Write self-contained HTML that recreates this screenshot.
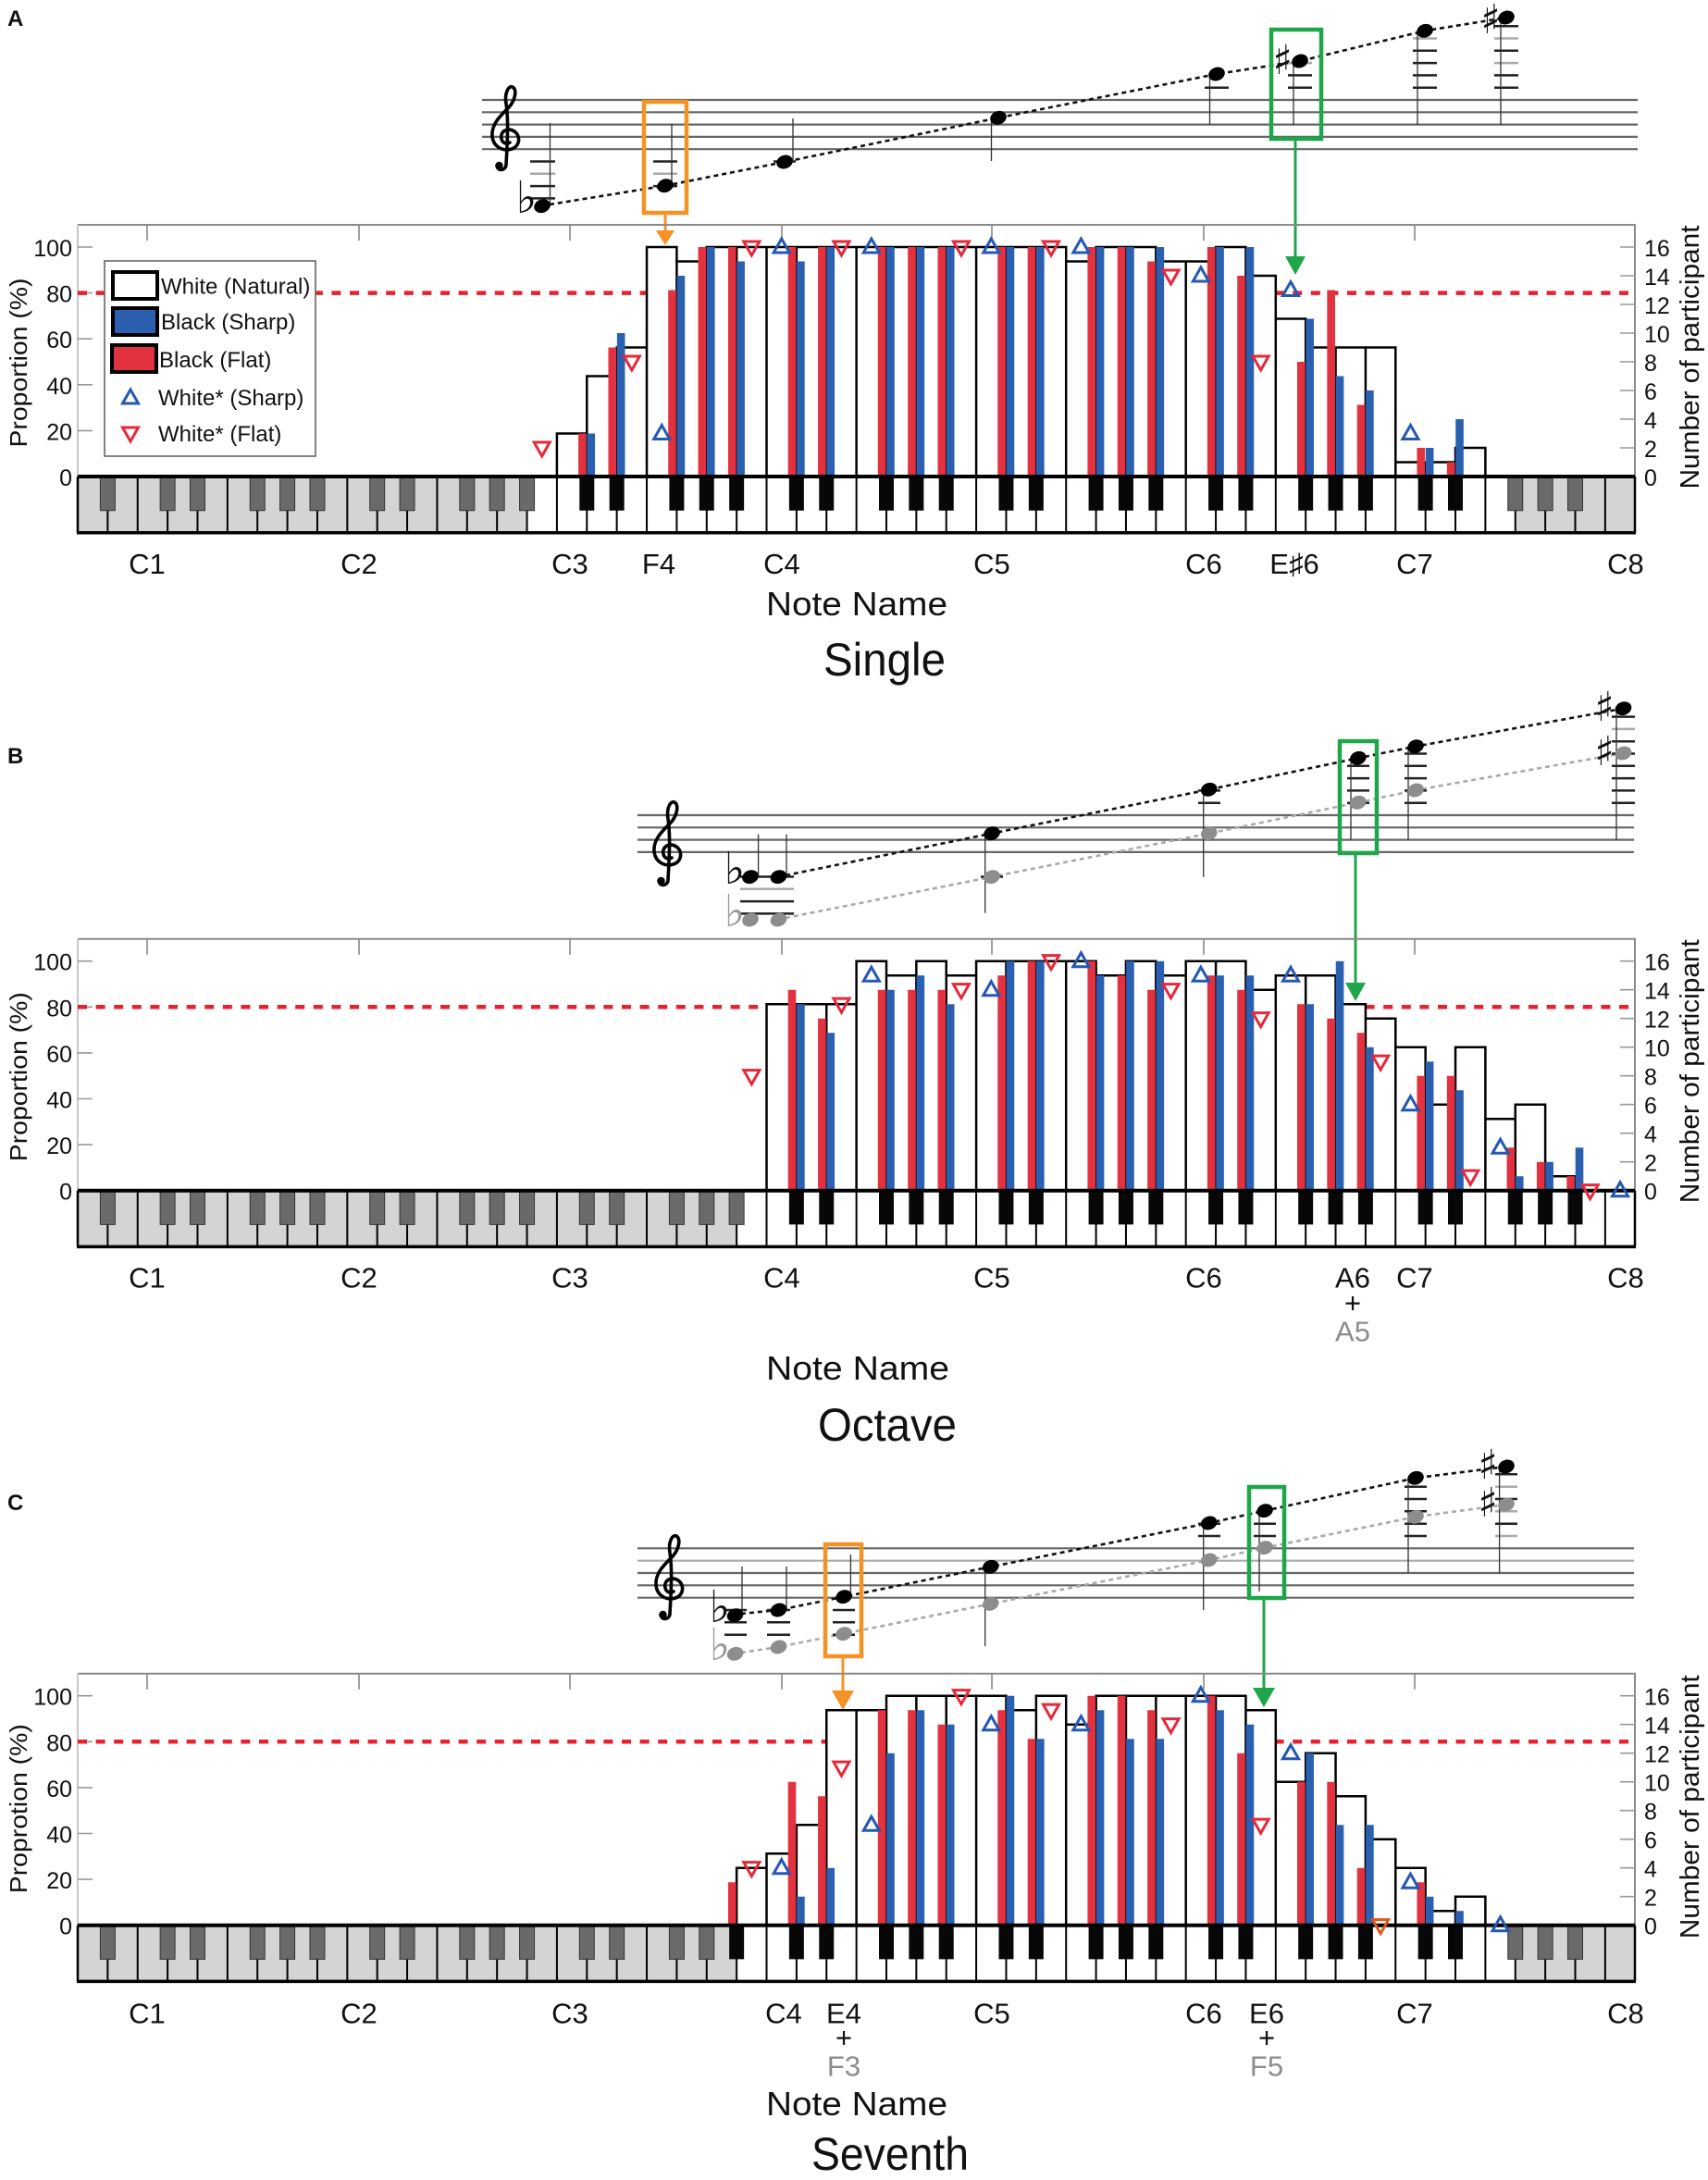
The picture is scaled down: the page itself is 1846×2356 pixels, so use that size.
<!DOCTYPE html>
<html><head><meta charset="utf-8">
<style>
html,body{margin:0;padding:0;background:#fff;}
svg{display:block;}
text{font-family:"Liberation Sans",Arial,sans-serif;fill:#111;}
.acc{font-family:"DejaVu Sans","Liberation Sans",sans-serif;}
.ns{vector-effect:non-scaling-stroke;}
</style></head>
<body>
<svg width="1846" height="2356" viewBox="0 0 1846 2356" xmlns="http://www.w3.org/2000/svg">
<rect x="0" y="0" width="1846" height="2356" fill="#fff"/>

<!-- Panel letters -->
<text x="8" y="28" font-size="24" font-weight="bold">A</text>
<text x="8" y="825" font-size="24" font-weight="bold">B</text>
<text x="8" y="1632" font-size="24" font-weight="bold">C</text>

<!-- ================= STAFF A ================= -->
<g stroke="#666" stroke-width="2.2">
<line x1="521" y1="108" x2="1770" y2="108"/><line x1="521" y1="121.3" x2="1770" y2="121.3"/><line x1="521" y1="134.6" x2="1770" y2="134.6"/><line x1="521" y1="147.9" x2="1770" y2="147.9"/><line x1="521" y1="161.2" x2="1770" y2="161.2"/>
</g>
<g transform="translate(529,92)"><path d="M18,86C19,66 21,40 18,20C16,8 21,0 25,2C30,5 28,16 21,24C12,33 2,42 3,55C4,67 15,72 24,69C33,66 34,55 27,50C20,45 11,50 13,58C14,63 19,64 22,62M18,86C18,92 9,94 8,87" fill="none" stroke="#000" stroke-width="3.6" stroke-linecap="round"/><circle cx="10.5" cy="87" r="4.2" fill="#000"/></g>
<polyline points="594,221 719,200.7 848,175 1079,127.3 1315,80 1405,66 1540,33.3 1628,19" fill="none" stroke="#111" stroke-width="2.6" stroke-dasharray="5 4"/>
<path d="M573,174.5h27M573,201.1h27M573,214.4h27M706,174.5h26M706,201.1h26M836,174.5h24M1302,94.7h26M1392,94.7h26M1392,81.4h26M1527,94.7h26M1527,81.4h26M1527,68.1h26M1527,54.8h26M1615,94.7h26M1615,81.4h26M1615,54.8h26M1615,28.2h26" stroke="#222" stroke-width="2.5"/>
<path d="M573,187.8h27M706,187.8h26M1392,68.1h26M1527,41.5h26M1615,68.1h26M1615,41.5h26" stroke="#aaa" stroke-width="2.5"/>
<path d="M594.5,133V222M726,134V200M857,128V175M1071.5,127V174M1307.5,80V135M1398,66V135M1532,33V135M1622,19V135" stroke="#333" stroke-width="1.3"/>
<g fill="#000">
<ellipse cx="586" cy="222.7" rx="9" ry="7.2" transform="rotate(-20 586 222.7)"/>
<ellipse cx="719" cy="200.7" rx="9" ry="7.2" transform="rotate(-20 719 200.7)"/>
<ellipse cx="848" cy="175" rx="9" ry="7.2" transform="rotate(-20 848 175)"/>
<ellipse cx="1079" cy="127.3" rx="9" ry="7.2" transform="rotate(-20 1079 127.3)"/>
<ellipse cx="1315" cy="80" rx="9" ry="7.2" transform="rotate(-20 1315 80)"/>
<ellipse cx="1405" cy="66" rx="9" ry="7.2" transform="rotate(-20 1405 66)"/>
<ellipse cx="1540" cy="33.3" rx="9" ry="7.2" transform="rotate(-20 1540 33.3)"/>
<ellipse cx="1628" cy="19" rx="9" ry="7.2" transform="rotate(-20 1628 19)"/>
</g>
<text class="acc" x="569" y="230" font-size="48" text-anchor="middle">♭</text>
<text class="acc" x="1386" y="80" font-size="44" text-anchor="middle">♯</text>
<text class="acc" x="1611" y="36" font-size="44" text-anchor="middle">♯</text>
<!-- boxes A -->
<rect x="696" y="110" width="46" height="120" fill="none" stroke="#F39325" stroke-width="4.5"/>
<line x1="719" y1="232" x2="719" y2="252" stroke="#F39325" stroke-width="3"/>
<polygon points="709,249 729,249 719,265" fill="#F39325"/>
<rect x="1374" y="32" width="54" height="118" fill="none" stroke="#20A64A" stroke-width="4.5"/>
<line x1="1400" y1="152" x2="1400" y2="280" stroke="#20A64A" stroke-width="3"/>
<polygon points="1389,277 1411,277 1400,297" fill="#20A64A"/>

<!-- ================= CHART A ================= -->
<g transform="translate(0,515)">
 <path d="M84,-272H1767V0" fill="none" stroke="#8a8a8a" stroke-width="2"/>
 <path d="M84,-272V0" stroke="#c8c8c8" stroke-width="2"/>
 <path d="M159,-272v17M388,-272v17M616,-272v17M845,-272v17M1072,-272v17M1301,-272v17M1529,-272v17" stroke="#888" stroke-width="1.6"/>
 <path d="M84,-248h16M84,-198.4h16M84,-148.8h16M84,-99.2h16M84,-49.6h16" stroke="#999" stroke-width="1.6"/>
 <path d="M1767,-248h-16M1767,-217h-16M1767,-186h-16M1767,-155h-16M1767,-124h-16M1767,-93h-16M1767,-62h-16M1767,-31h-16" stroke="#999" stroke-width="1.6"/>
 <line x1="84" y1="-198.4" x2="1767" y2="-198.4" stroke="#e8212f" stroke-width="4.5" stroke-dasharray="10 9.6"/>
 <g transform="translate(84,0) scale(32.37,15.5)">
  <rect x="0" y="0" width="52" height="3.92" fill="#fff"/>
  <rect x="0" y="0" width="15" height="3.92" fill="#d4d4d4"/>
  <rect x="48" y="0" width="4" height="3.92" fill="#d4d4d4"/>
  <path class="ns" stroke="#000" stroke-width="2" d="M1,0V3.92M2,0V3.92M3,0V3.92M4,0V3.92M5,0V3.92M6,0V3.92M7,0V3.92M8,0V3.92M9,0V3.92M10,0V3.92M11,0V3.92M12,0V3.92M13,0V3.92M14,0V3.92M15,0V3.92M16,0V3.92M17,0V3.92M18,0V3.92M19,0V3.92M20,0V3.92M21,0V3.92M22,0V3.92M23,0V3.92M24,0V3.92M25,0V3.92M26,0V3.92M27,0V3.92M28,0V3.92M29,0V3.92M30,0V3.92M31,0V3.92M32,0V3.92M33,0V3.92M34,0V3.92M35,0V3.92M36,0V3.92M37,0V3.92M38,0V3.92M39,0V3.92M40,0V3.92M41,0V3.92M42,0V3.92M43,0V3.92M44,0V3.92M45,0V3.92M46,0V3.92M47,0V3.92M48,0V3.92M49,0V3.92M50,0V3.92M51,0V3.92"/>
  <path class="ns" fill="#6a6a6a" stroke="#333" stroke-width="1" d="M.753,0h.494v2.37h-.494zM2.753,0h.494v2.37h-.494zM3.753,0h.494v2.37h-.494zM5.753,0h.494v2.37h-.494zM6.753,0h.494v2.37h-.494zM7.753,0h.494v2.37h-.494zM9.753,0h.494v2.37h-.494zM10.753,0h.494v2.37h-.494zM12.753,0h.494v2.37h-.494zM13.753,0h.494v2.37h-.494zM14.753,0h.494v2.37h-.494zM47.753,0h.494v2.37h-.494zM48.753,0h.494v2.37h-.494zM49.753,0h.494v2.37h-.494z"/>
  <path fill="#070707" d="M16.753,0h.494v2.37h-.494zM17.753,0h.494v2.37h-.494zM19.753,0h.494v2.37h-.494zM20.753,0h.494v2.37h-.494zM21.753,0h.494v2.37h-.494zM23.753,0h.494v2.37h-.494zM24.753,0h.494v2.37h-.494zM26.753,0h.494v2.37h-.494zM27.753,0h.494v2.37h-.494zM28.753,0h.494v2.37h-.494zM30.753,0h.494v2.37h-.494zM31.753,0h.494v2.37h-.494zM33.753,0h.494v2.37h-.494zM34.753,0h.494v2.37h-.494zM35.753,0h.494v2.37h-.494zM37.753,0h.494v2.37h-.494zM38.753,0h.494v2.37h-.494zM40.753,0h.494v2.37h-.494zM41.753,0h.494v2.37h-.494zM42.753,0h.494v2.37h-.494zM44.753,0h.494v2.37h-.494zM45.753,0h.494v2.37h-.494z"/>
  <path class="ns" fill="#fff" stroke="#000" stroke-width="2.5" d="M16,0v-3h1v3zM17,0v-7h1v7zM18,0v-9h1v9zM19,0v-16h1v16zM20,0v-15h1v15zM21,0v-16h1v16zM22,0v-16h1v16zM23,0v-16h1v16zM24,0v-16h1v16zM25,0v-16h1v16zM26,0v-16h1v16zM27,0v-16h1v16zM28,0v-16h1v16zM29,0v-16h1v16zM30,0v-16h1v16zM31,0v-16h1v16zM32,0v-16h1v16zM33,0v-15h1v15zM34,0v-16h1v16zM35,0v-16h1v16zM36,0v-15h1v15zM37,0v-15h1v15zM38,0v-16h1v16zM39,0v-14h1v14zM40,0v-11h1v11zM41,0v-9h1v9zM42,0v-9h1v9zM43,0v-9h1v9zM44,0v-1h1v1zM45,0v-1h1v1zM46,0v-2h1v2z"/>
  <path fill="#E2323F" d="M16.716,0v-3h.266v3zM17.716,0v-9h.266v9zM19.716,0v-13h.266v13zM20.716,0v-16h.266v16zM21.716,0v-16h.266v16zM23.716,0v-16h.266v16zM24.716,0v-16h.266v16zM26.716,0v-16h.266v16zM27.716,0v-16h.266v16zM28.716,0v-16h.266v16zM30.716,0v-16h.266v16zM31.716,0v-16h.266v16zM33.716,0v-16h.266v16zM34.716,0v-16h.266v16zM35.716,0v-15h.266v15zM37.716,0v-16h.266v16zM38.716,0v-14h.266v14zM40.716,0v-8h.266v8zM41.716,0v-13h.266v13zM42.716,0v-5h.266v5zM44.716,0v-2h.266v2zM45.716,0v-1h.266v1z"/>
  <path fill="#2B60B0" d="M17.006,0v-3h.266v3zM18.006,0v-10h.266v10zM20.006,0v-14h.266v14zM21.006,0v-16h.266v16zM22.006,0v-15h.266v15zM24.006,0v-15h.266v15zM25.006,0v-16h.266v16zM27.006,0v-16h.266v16zM28.006,0v-16h.266v16zM29.006,0v-16h.266v16zM31.006,0v-16h.266v16zM32.006,0v-16h.266v16zM34.006,0v-16h.266v16zM35.006,0v-16h.266v16zM36.006,0v-16h.266v16zM38.006,0v-16h.266v16zM39.006,0v-16h.266v16zM41.006,0v-11h.266v11zM42.006,0v-7h.266v7zM43.006,0v-6h.266v6zM45.006,0v-2h.266v2zM46.006,0v-4h.266v4z"/>
 </g>
 <path d="M84,0H1767" stroke="#000" stroke-width="4"/>
 <path d="M83,60.7H1768" stroke="#000" stroke-width="3.5"/>
 <path d="M84,0V60.7M1767,0V60.7" stroke="#000" stroke-width="2.5"/>
 <g transform="translate(84,0) scale(32.37,15.5)">
  <path class="ns" fill="none" stroke="#E5283A" stroke-width="3" d="M15.5,-1.42l.263,-.968h-.526zM18.5,-7.42l.263,-.968h-.526zM22.5,-15.42l.263,-.968h-.526zM25.5,-15.42l.263,-.968h-.526zM29.5,-15.42l.263,-.968h-.526zM32.5,-15.42l.263,-.968h-.526zM36.5,-13.42l.263,-.968h-.526zM39.5,-7.42l.263,-.968h-.526z"/>
  <path class="ns" fill="none" stroke="#2458B3" stroke-width="3" d="M19.5,-3.58l.263,.968h-.526zM23.5,-16.58l.263,.968h-.526zM26.5,-16.58l.263,.968h-.526zM30.5,-16.58l.263,.968h-.526zM33.5,-16.58l.263,.968h-.526zM37.5,-14.58l.263,.968h-.526zM40.5,-13.58l.263,.968h-.526zM44.5,-3.58l.263,.968h-.526z"/>
 </g>
 <g font-size="25" text-anchor="end">
  <text x="78" y="-238">100</text><text x="78" y="-188.4">80</text><text x="78" y="-138.8">60</text><text x="78" y="-89.2">40</text><text x="78" y="-39.6">20</text><text x="78" y="10">0</text>
 </g>
 <g font-size="25">
  <text x="1777" y="-238">16</text><text x="1777" y="-207">14</text><text x="1777" y="-176">12</text><text x="1777" y="-145">10</text><text x="1777" y="-114">8</text><text x="1777" y="-83">6</text><text x="1777" y="-52">4</text><text x="1777" y="-21">2</text><text x="1777" y="10">0</text>
 </g>
 <text transform="translate(29,-123) rotate(-90)" font-size="26" text-anchor="middle" textLength="183" lengthAdjust="spacingAndGlyphs">Proportion (%)</text>
 <text transform="translate(1836,-129) rotate(-90)" font-size="29" text-anchor="middle" textLength="285" lengthAdjust="spacingAndGlyphs">Number of participant</text>
 <g font-size="31" text-anchor="middle">
  <text x="159" y="105">C1</text><text x="388" y="105">C2</text><text x="616" y="105">C3</text><text x="712" y="105">F4</text><text x="845" y="105">C4</text><text x="1072" y="105">C5</text><text x="1301" y="105">C6</text><text x="1399" y="105">E♯6</text><text x="1529" y="105">C7</text><text x="1757" y="105">C8</text>
 </g>
</g>
<!-- Legend A -->
<rect x="113" y="282" width="228" height="211" fill="#fff" stroke="#666" stroke-width="1.6"/>
<rect x="122" y="294" width="48" height="29" fill="#fff" stroke="#000" stroke-width="4"/>
<rect x="122" y="333" width="48" height="29" fill="#2B60B0" stroke="#000" stroke-width="4"/>
<rect x="121" y="373" width="48" height="29" fill="#E2323F" stroke="#000" stroke-width="4"/>
<polygon points="141,421 132.5,436 149.5,436" fill="none" stroke="#2458B3" stroke-width="3"/>
<polygon points="141,477 132.5,462 149.5,462" fill="none" stroke="#E5283A" stroke-width="3"/>
<g font-size="24">
<text x="174" y="317.5">White (Natural)</text>
<text x="174" y="356">Black (Sharp)</text>
<text x="172" y="397">Black (Flat)</text>
<text x="171" y="438">White* (Sharp)</text>
<text x="171" y="477">White* (Flat)</text>
</g>
<text x="926" y="665" font-size="36" text-anchor="middle" textLength="196" lengthAdjust="spacingAndGlyphs">Note Name</text>
<text x="956" y="730" font-size="50" text-anchor="middle" textLength="132" lengthAdjust="spacingAndGlyphs">Single</text>

<!-- ================= STAFF B ================= -->
<g stroke="#666" stroke-width="2.2">
<line x1="689" y1="881" x2="1766" y2="881"/><line x1="689" y1="894.3" x2="1766" y2="894.3"/><line x1="689" y1="907.6" x2="1766" y2="907.6"/><line x1="689" y1="920.9" x2="1766" y2="920.9"/>
</g>
<g transform="translate(704,865)"><path d="M18,86C19,66 21,40 18,20C16,8 21,0 25,2C30,5 28,16 21,24C12,33 2,42 3,55C4,67 15,72 24,69C33,66 34,55 27,50C20,45 11,50 13,58C14,63 19,64 22,62M18,86C18,92 9,94 8,87" fill="none" stroke="#000" stroke-width="3.6" stroke-linecap="round"/><circle cx="10.5" cy="87" r="4.2" fill="#000"/></g>
<polyline points="849,946 1072,900.7 1306.7,853.3 1467.8,819.3 1530,806.7 1754.5,765.7" fill="none" stroke="#111" stroke-width="2.6" stroke-dasharray="5 4"/>
<polyline points="849,992 1072,947.7 1306.7,900.7 1467.8,867.3 1530,854 1754.5,814" fill="none" stroke="#aaa" stroke-width="2.6" stroke-dasharray="5 4"/>
<path d="M800,947.5h58M800,974.1h58M800,987.4h58M1060,947.5h24M1295,854.4h24M1295,867.7h24M1456,827.8h24M1456,841.1h24M1456,854.4h24M1456,867.7h24M1518,814.5h24M1518,827.8h24M1518,841.1h24M1518,854.4h24M1518,867.7h24M1742,774.6h25M1742,801.2h25M1742,814.5h25M1742,827.8h25M1742,841.1h25M1742,854.4h25M1742,867.7h25" stroke="#222" stroke-width="2.5"/>
<path d="M800,960.8h58M1742,787.9h25" stroke="#aaa" stroke-width="2.5"/>
<path d="M819.6,901.7V947.7M850,901.7V947.7M1064.7,900.7V986.7M1300.7,853V947.7M1460,819V907.7M1522,806.7V907.7M1747,765.7V907.7" stroke="#333" stroke-width="1.3"/>
<g fill="#8d8d8d">
<ellipse cx="811" cy="994" rx="9" ry="7.2" transform="rotate(-20 811 994)"/>
<ellipse cx="841.5" cy="994" rx="9" ry="7.2" transform="rotate(-20 841.5 994)"/>
<ellipse cx="1072" cy="947.7" rx="9" ry="7.2" transform="rotate(-20 1072 947.7)"/>
<ellipse cx="1306.7" cy="900.7" rx="9" ry="7.2" transform="rotate(-20 1306.7 900.7)"/>
<ellipse cx="1467.8" cy="867.3" rx="9" ry="7.2" transform="rotate(-20 1467.8 867.3)"/>
<ellipse cx="1530" cy="854" rx="9" ry="7.2" transform="rotate(-20 1530 854)"/>
<ellipse cx="1754.5" cy="814" rx="9" ry="7.2" transform="rotate(-20 1754.5 814)"/>
</g>
<g fill="#000">
<ellipse cx="811" cy="947.7" rx="9" ry="7.2" transform="rotate(-20 811 947.7)"/>
<ellipse cx="841.5" cy="947.7" rx="9" ry="7.2" transform="rotate(-20 841.5 947.7)"/>
<ellipse cx="1072" cy="900.7" rx="9" ry="7.2" transform="rotate(-20 1072 900.7)"/>
<ellipse cx="1306.7" cy="853.3" rx="9" ry="7.2" transform="rotate(-20 1306.7 853.3)"/>
<ellipse cx="1467.8" cy="819.3" rx="9" ry="7.2" transform="rotate(-20 1467.8 819.3)"/>
<ellipse cx="1530" cy="806.7" rx="9" ry="7.2" transform="rotate(-20 1530 806.7)"/>
<ellipse cx="1754.5" cy="765.7" rx="9" ry="7.2" transform="rotate(-20 1754.5 765.7)"/>
</g>
<text class="acc" x="794" y="955" font-size="48" text-anchor="middle">♭</text>
<text class="acc" x="794" y="1001" font-size="48" text-anchor="middle" style="fill:#999">♭</text>
<text class="acc" x="1734" y="779" font-size="44" text-anchor="middle">♯</text>
<text class="acc" x="1734" y="827" font-size="44" text-anchor="middle">♯</text>
<rect x="1448" y="801" width="40" height="121" fill="none" stroke="#20A64A" stroke-width="4.5"/>
<line x1="1465" y1="923" x2="1465" y2="1064" stroke="#20A64A" stroke-width="3"/>
<polygon points="1454,1062 1476,1062 1465,1082" fill="#20A64A"/>

<!-- ================= CHART B ================= -->
<g transform="translate(0,1286.7)">
 <path d="M84,-272H1767V0" fill="none" stroke="#8a8a8a" stroke-width="2"/>
 <path d="M84,-272V0" stroke="#c8c8c8" stroke-width="2"/>
 <path d="M159,-272v17M388,-272v17M616,-272v17M845,-272v17M1072,-272v17M1301,-272v17M1529,-272v17" stroke="#888" stroke-width="1.6"/>
 <path d="M84,-248h16M84,-198.4h16M84,-148.8h16M84,-99.2h16M84,-49.6h16" stroke="#999" stroke-width="1.6"/>
 <path d="M1767,-248h-16M1767,-217h-16M1767,-186h-16M1767,-155h-16M1767,-124h-16M1767,-93h-16M1767,-62h-16M1767,-31h-16" stroke="#999" stroke-width="1.6"/>
 <line x1="84" y1="-198.4" x2="1767" y2="-198.4" stroke="#e8212f" stroke-width="4.5" stroke-dasharray="10 9.6"/>
 <g transform="translate(84,0) scale(32.37,15.5)">
  <rect x="0" y="0" width="52" height="3.92" fill="#fff"/>
  <rect x="0" y="0" width="22" height="3.92" fill="#d4d4d4"/>
  <path class="ns" stroke="#000" stroke-width="2" d="M1,0V3.92M2,0V3.92M3,0V3.92M4,0V3.92M5,0V3.92M6,0V3.92M7,0V3.92M8,0V3.92M9,0V3.92M10,0V3.92M11,0V3.92M12,0V3.92M13,0V3.92M14,0V3.92M15,0V3.92M16,0V3.92M17,0V3.92M18,0V3.92M19,0V3.92M20,0V3.92M21,0V3.92M22,0V3.92M23,0V3.92M24,0V3.92M25,0V3.92M26,0V3.92M27,0V3.92M28,0V3.92M29,0V3.92M30,0V3.92M31,0V3.92M32,0V3.92M33,0V3.92M34,0V3.92M35,0V3.92M36,0V3.92M37,0V3.92M38,0V3.92M39,0V3.92M40,0V3.92M41,0V3.92M42,0V3.92M43,0V3.92M44,0V3.92M45,0V3.92M46,0V3.92M47,0V3.92M48,0V3.92M49,0V3.92M50,0V3.92M51,0V3.92"/>
  <path class="ns" fill="#6a6a6a" stroke="#333" stroke-width="1" d="M.753,0h.494v2.37h-.494zM2.753,0h.494v2.37h-.494zM3.753,0h.494v2.37h-.494zM5.753,0h.494v2.37h-.494zM6.753,0h.494v2.37h-.494zM7.753,0h.494v2.37h-.494zM9.753,0h.494v2.37h-.494zM10.753,0h.494v2.37h-.494zM12.753,0h.494v2.37h-.494zM13.753,0h.494v2.37h-.494zM14.753,0h.494v2.37h-.494zM16.753,0h.494v2.37h-.494zM17.753,0h.494v2.37h-.494zM19.753,0h.494v2.37h-.494zM20.753,0h.494v2.37h-.494zM21.753,0h.494v2.37h-.494z"/>
  <path fill="#070707" d="M23.753,0h.494v2.37h-.494zM24.753,0h.494v2.37h-.494zM26.753,0h.494v2.37h-.494zM27.753,0h.494v2.37h-.494zM28.753,0h.494v2.37h-.494zM30.753,0h.494v2.37h-.494zM31.753,0h.494v2.37h-.494zM33.753,0h.494v2.37h-.494zM34.753,0h.494v2.37h-.494zM35.753,0h.494v2.37h-.494zM37.753,0h.494v2.37h-.494zM38.753,0h.494v2.37h-.494zM40.753,0h.494v2.37h-.494zM41.753,0h.494v2.37h-.494zM42.753,0h.494v2.37h-.494zM44.753,0h.494v2.37h-.494zM45.753,0h.494v2.37h-.494zM47.753,0h.494v2.37h-.494zM48.753,0h.494v2.37h-.494zM49.753,0h.494v2.37h-.494z"/>
  <path class="ns" fill="#fff" stroke="#000" stroke-width="2.5" d="M23,0v-13h1v13zM24,0v-13h1v13zM25,0v-13h1v13zM26,0v-16h1v16zM27,0v-15h1v15zM28,0v-16h1v16zM29,0v-15h1v15zM30,0v-16h1v16zM31,0v-16h1v16zM32,0v-16h1v16zM33,0v-16h1v16zM34,0v-15h1v15zM35,0v-16h1v16zM36,0v-15h1v15zM37,0v-16h1v16zM38,0v-16h1v16zM39,0v-14h1v14zM40,0v-15h1v15zM41,0v-15h1v15zM42,0v-13h1v13zM43,0v-12h1v12zM44,0v-10h1v10zM45,0v-6h1v6zM46,0v-10h1v10zM47,0v-5h1v5zM48,0v-6h1v6zM49,0v-1h1v1z"/>
  <path fill="#E2323F" d="M23.716,0v-14h.266v14zM24.716,0v-12h.266v12zM26.716,0v-14h.266v14zM27.716,0v-14h.266v14zM28.716,0v-14h.266v14zM30.716,0v-15h.266v15zM31.716,0v-16h.266v16zM33.716,0v-16h.266v16zM34.716,0v-15h.266v15zM35.716,0v-14h.266v14zM37.716,0v-15h.266v15zM38.716,0v-14h.266v14zM40.716,0v-13h.266v13zM41.716,0v-12h.266v12zM42.716,0v-11h.266v11zM44.716,0v-8h.266v8zM45.716,0v-8h.266v8zM47.716,0v-3h.266v3zM48.716,0v-2h.266v2zM49.716,0v-1h.266v1z"/>
  <path fill="#2B60B0" d="M24.006,0v-13h.266v13zM25.006,0v-11h.266v11zM27.006,0v-14h.266v14zM28.006,0v-15h.266v15zM29.006,0v-13h.266v13zM31.006,0v-16h.266v16zM32.006,0v-16h.266v16zM34.006,0v-15h.266v15zM35.006,0v-16h.266v16zM36.006,0v-16h.266v16zM38.006,0v-15h.266v15zM39.006,0v-15h.266v15zM41.006,0v-13h.266v13zM42.006,0v-16h.266v16zM43.006,0v-10h.266v10zM45.006,0v-9h.266v9zM46.006,0v-7h.266v7zM48.006,0v-1h.266v1zM49.006,0v-2h.266v2zM50.006,0v-3h.266v3z"/>
 </g>
 <path d="M84,0H1767" stroke="#000" stroke-width="4"/>
 <path d="M83,60.7H1768" stroke="#000" stroke-width="3.5"/>
 <path d="M84,0V60.7M1767,0V60.7" stroke="#000" stroke-width="2.5"/>
 <g transform="translate(84,0) scale(32.37,15.5)">
  <path class="ns" fill="none" stroke="#E5283A" stroke-width="3" d="M22.5,-7.42l.263,-.968h-.526zM25.5,-12.42l.263,-.968h-.526zM29.5,-13.42l.263,-.968h-.526zM32.5,-15.42l.263,-.968h-.526zM36.5,-13.42l.263,-.968h-.526zM39.5,-11.42l.263,-.968h-.526zM43.5,-8.42l.263,-.968h-.526zM46.5,-.42l.263,-.968h-.526zM50.5,.58l.263,-.968h-.526z"/>
  <path class="ns" fill="none" stroke="#2458B3" stroke-width="3" d="M26.5,-15.58l.263,.968h-.526zM30.5,-14.58l.263,.968h-.526zM33.5,-16.58l.263,.968h-.526zM37.5,-15.58l.263,.968h-.526zM40.5,-15.58l.263,.968h-.526zM44.5,-6.58l.263,.968h-.526zM47.5,-3.58l.263,.968h-.526zM51.5,-.58l.263,.968h-.526z"/>
 </g>
 <g font-size="25" text-anchor="end">
  <text x="78" y="-238">100</text><text x="78" y="-188.4">80</text><text x="78" y="-138.8">60</text><text x="78" y="-89.2">40</text><text x="78" y="-39.6">20</text><text x="78" y="10">0</text>
 </g>
 <g font-size="25">
  <text x="1777" y="-238">16</text><text x="1777" y="-207">14</text><text x="1777" y="-176">12</text><text x="1777" y="-145">10</text><text x="1777" y="-114">8</text><text x="1777" y="-83">6</text><text x="1777" y="-52">4</text><text x="1777" y="-21">2</text><text x="1777" y="10">0</text>
 </g>
 <text transform="translate(29,-123) rotate(-90)" font-size="26" text-anchor="middle" textLength="183" lengthAdjust="spacingAndGlyphs">Proportion (%)</text>
 <text transform="translate(1836,-129) rotate(-90)" font-size="29" text-anchor="middle" textLength="285" lengthAdjust="spacingAndGlyphs">Number of participant</text>
 <g font-size="31" text-anchor="middle">
  <text x="159" y="105">C1</text><text x="388" y="105">C2</text><text x="616" y="105">C3</text><text x="845" y="105">C4</text><text x="1072" y="105">C5</text><text x="1301" y="105">C6</text><text x="1462" y="105">A6</text><text x="1529" y="105">C7</text><text x="1757" y="105">C8</text>
  <text x="1462" y="132">+</text>
  <text x="1462" y="163" style="fill:#8c8c8c">A5</text>
 </g>
</g>
<text x="927" y="1491" font-size="36" text-anchor="middle" textLength="198" lengthAdjust="spacingAndGlyphs">Note Name</text>
<text x="959" y="1557" font-size="50" text-anchor="middle" textLength="150" lengthAdjust="spacingAndGlyphs">Octave</text>

<!-- ================= STAFF C ================= -->
<g stroke="#666" stroke-width="2.2">
<line x1="689" y1="1673.3" x2="1766" y2="1673.3"/><line x1="689" y1="1686.7" x2="1766" y2="1686.7" stroke="#aaa"/><line x1="689" y1="1700" x2="1766" y2="1700"/><line x1="689" y1="1713.3" x2="1766" y2="1713.3"/><line x1="689" y1="1726.7" x2="1766" y2="1726.7"/>
</g>
<g transform="translate(706,1658)"><path d="M18,86C19,66 21,40 18,20C16,8 21,0 25,2C30,5 28,16 21,24C12,33 2,42 3,55C4,67 15,72 24,69C33,66 34,55 27,50C20,45 11,50 13,58C14,63 19,64 22,62M18,86C18,92 9,94 8,87" fill="none" stroke="#000" stroke-width="3.6" stroke-linecap="round"/><circle cx="10.5" cy="87" r="4.2" fill="#000"/></g>
<polyline points="801,1744 841.5,1740 912,1725.7 1070.7,1693.3 1306.7,1646 1367,1632.7 1530,1597.3 1628,1585" fill="none" stroke="#111" stroke-width="2.6" stroke-dasharray="5 4"/>
<polyline points="801,1786 841.5,1780 912,1765.7 1070.7,1733.3 1306.7,1686 1367,1672.7 1530,1639.3 1628,1626" fill="none" stroke="#aaa" stroke-width="2.6" stroke-dasharray="5 4"/>
<path d="M783,1740h24M783,1753.3h24M783,1766.7h24M829,1740h25M829,1753.3h25M829,1766.7h25M900,1740h24M900,1753.3h24M900,1766.7h24M1295,1646.7h24M1295,1660h24M1355,1646.7h24M1355,1660h24M1518,1606.7h24M1518,1620h24M1518,1633.3h24M1518,1646.7h24M1518,1660h24M1616,1593.3h24M1616,1620h24M1616,1646.7h24" stroke="#222" stroke-width="2.5"/>
<path d="M1616,1606.7h24M1616,1633.3h24M1616,1660h24" stroke="#aaa" stroke-width="2.5"/>
<path d="M802,1693V1746M850,1693V1740M919.4,1680V1726M1064.7,1693V1779M1300.7,1646V1740M1361,1633V1720M1522,1597V1700M1620.6,1585V1700" stroke="#333" stroke-width="1.3"/>
<g fill="#8d8d8d">
<ellipse cx="794.6" cy="1787.3" rx="9" ry="7.2" transform="rotate(-20 794.6 1787.3)"/>
<ellipse cx="841.5" cy="1780" rx="9" ry="7.2" transform="rotate(-20 841.5 1780)"/>
<ellipse cx="912" cy="1765.7" rx="9" ry="7.2" transform="rotate(-20 912 1765.7)"/>
<ellipse cx="1070.7" cy="1733.3" rx="9" ry="7.2" transform="rotate(-20 1070.7 1733.3)"/>
<ellipse cx="1306.7" cy="1686" rx="9" ry="7.2" transform="rotate(-20 1306.7 1686)"/>
<ellipse cx="1367" cy="1672.7" rx="9" ry="7.2" transform="rotate(-20 1367 1672.7)"/>
<ellipse cx="1530" cy="1639.3" rx="9" ry="7.2" transform="rotate(-20 1530 1639.3)"/>
<ellipse cx="1628" cy="1626" rx="9" ry="7.2" transform="rotate(-20 1628 1626)"/>
</g>
<g fill="#000">
<ellipse cx="794.6" cy="1745.7" rx="9" ry="7.2" transform="rotate(-20 794.6 1745.7)"/>
<ellipse cx="841.5" cy="1740" rx="9" ry="7.2" transform="rotate(-20 841.5 1740)"/>
<ellipse cx="912" cy="1725.7" rx="9" ry="7.2" transform="rotate(-20 912 1725.7)"/>
<ellipse cx="1070.7" cy="1693.3" rx="9" ry="7.2" transform="rotate(-20 1070.7 1693.3)"/>
<ellipse cx="1306.7" cy="1646" rx="9" ry="7.2" transform="rotate(-20 1306.7 1646)"/>
<ellipse cx="1367" cy="1632.7" rx="9" ry="7.2" transform="rotate(-20 1367 1632.7)"/>
<ellipse cx="1530" cy="1597.3" rx="9" ry="7.2" transform="rotate(-20 1530 1597.3)"/>
<ellipse cx="1628" cy="1585" rx="9" ry="7.2" transform="rotate(-20 1628 1585)"/>
</g>
<text class="acc" x="778" y="1753" font-size="48" text-anchor="middle">♭</text>
<text class="acc" x="778" y="1794" font-size="48" text-anchor="middle" style="fill:#999">♭</text>
<text class="acc" x="1608" y="1598" font-size="44" text-anchor="middle">♯</text>
<text class="acc" x="1608" y="1639" font-size="44" text-anchor="middle">♯</text>
<rect x="892" y="1669" width="39" height="121" fill="none" stroke="#F39325" stroke-width="4.5"/>
<line x1="911" y1="1792" x2="911" y2="1830" stroke="#F39325" stroke-width="3"/>
<polygon points="899,1827 923,1827 911,1848" fill="#F39325"/>
<rect x="1350" y="1607" width="38" height="120" fill="none" stroke="#20A64A" stroke-width="4.5"/>
<line x1="1366" y1="1729" x2="1366" y2="1826" stroke="#20A64A" stroke-width="3"/>
<polygon points="1354,1824 1378,1824 1366,1845" fill="#20A64A"/>

<!-- ================= CHART C ================= -->
<g transform="translate(0,2080.7)">
 <path d="M84,-272H1767V0" fill="none" stroke="#8a8a8a" stroke-width="2"/>
 <path d="M84,-272V0" stroke="#c8c8c8" stroke-width="2"/>
 <path d="M159,-272v17M388,-272v17M616,-272v17M845,-272v17M1072,-272v17M1301,-272v17M1529,-272v17" stroke="#888" stroke-width="1.6"/>
 <path d="M84,-248h16M84,-198.4h16M84,-148.8h16M84,-99.2h16M84,-49.6h16" stroke="#999" stroke-width="1.6"/>
 <path d="M1767,-248h-16M1767,-217h-16M1767,-186h-16M1767,-155h-16M1767,-124h-16M1767,-93h-16M1767,-62h-16M1767,-31h-16" stroke="#999" stroke-width="1.6"/>
 <line x1="84" y1="-198.4" x2="1767" y2="-198.4" stroke="#e8212f" stroke-width="4.5" stroke-dasharray="10 9.6"/>
 <g transform="translate(84,0) scale(32.37,15.5)">
  <rect x="0" y="0" width="52" height="3.92" fill="#fff"/>
  <rect x="0" y="0" width="22" height="3.92" fill="#d4d4d4"/>
  <rect x="48" y="0" width="4" height="3.92" fill="#d4d4d4"/>
  <path class="ns" stroke="#000" stroke-width="2" d="M1,0V3.92M2,0V3.92M3,0V3.92M4,0V3.92M5,0V3.92M6,0V3.92M7,0V3.92M8,0V3.92M9,0V3.92M10,0V3.92M11,0V3.92M12,0V3.92M13,0V3.92M14,0V3.92M15,0V3.92M16,0V3.92M17,0V3.92M18,0V3.92M19,0V3.92M20,0V3.92M21,0V3.92M22,0V3.92M23,0V3.92M24,0V3.92M25,0V3.92M26,0V3.92M27,0V3.92M28,0V3.92M29,0V3.92M30,0V3.92M31,0V3.92M32,0V3.92M33,0V3.92M34,0V3.92M35,0V3.92M36,0V3.92M37,0V3.92M38,0V3.92M39,0V3.92M40,0V3.92M41,0V3.92M42,0V3.92M43,0V3.92M44,0V3.92M45,0V3.92M46,0V3.92M47,0V3.92M48,0V3.92M49,0V3.92M50,0V3.92M51,0V3.92"/>
  <path class="ns" fill="#6a6a6a" stroke="#333" stroke-width="1" d="M.753,0h.494v2.37h-.494zM2.753,0h.494v2.37h-.494zM3.753,0h.494v2.37h-.494zM5.753,0h.494v2.37h-.494zM6.753,0h.494v2.37h-.494zM7.753,0h.494v2.37h-.494zM9.753,0h.494v2.37h-.494zM10.753,0h.494v2.37h-.494zM12.753,0h.494v2.37h-.494zM13.753,0h.494v2.37h-.494zM14.753,0h.494v2.37h-.494zM16.753,0h.494v2.37h-.494zM17.753,0h.494v2.37h-.494zM19.753,0h.494v2.37h-.494zM20.753,0h.494v2.37h-.494zM47.753,0h.494v2.37h-.494zM48.753,0h.494v2.37h-.494zM49.753,0h.494v2.37h-.494z"/>
  <path fill="#070707" d="M21.753,0h.494v2.37h-.494zM23.753,0h.494v2.37h-.494zM24.753,0h.494v2.37h-.494zM26.753,0h.494v2.37h-.494zM27.753,0h.494v2.37h-.494zM28.753,0h.494v2.37h-.494zM30.753,0h.494v2.37h-.494zM31.753,0h.494v2.37h-.494zM33.753,0h.494v2.37h-.494zM34.753,0h.494v2.37h-.494zM35.753,0h.494v2.37h-.494zM37.753,0h.494v2.37h-.494zM38.753,0h.494v2.37h-.494zM40.753,0h.494v2.37h-.494zM41.753,0h.494v2.37h-.494zM42.753,0h.494v2.37h-.494zM44.753,0h.494v2.37h-.494zM45.753,0h.494v2.37h-.494z"/>
  <path class="ns" fill="#fff" stroke="#000" stroke-width="2.5" d="M22,0v-4h1v4zM23,0v-5h1v5zM24,0v-7h1v7zM25,0v-15h1v15zM26,0v-15h1v15zM27,0v-16h1v16zM28,0v-16h1v16zM29,0v-16h1v16zM30,0v-16h1v16zM31,0v-15h1v15zM32,0v-16h1v16zM33,0v-14h1v14zM34,0v-16h1v16zM35,0v-16h1v16zM36,0v-16h1v16zM37,0v-16h1v16zM38,0v-16h1v16zM39,0v-15h1v15zM40,0v-10h1v10zM41,0v-12h1v12zM42,0v-9h1v9zM43,0v-6h1v6zM44,0v-4h1v4zM45,0v-1h1v1zM46,0v-2h1v2z"/>
  <path fill="#E2323F" d="M21.716,0v-3h.266v3zM23.716,0v-10h.266v10zM24.716,0v-9h.266v9zM26.716,0v-15h.266v15zM27.716,0v-15h.266v15zM28.716,0v-14h.266v14zM30.716,0v-15h.266v15zM31.716,0v-13h.266v13zM33.716,0v-16h.266v16zM34.716,0v-16h.266v16zM35.716,0v-15h.266v15zM37.716,0v-16h.266v16zM38.716,0v-12h.266v12zM40.716,0v-10h.266v10zM41.716,0v-10h.266v10zM42.716,0v-4h.266v4zM44.716,0v-3h.266v3z"/>
  <path fill="#2B60B0" d="M24.006,0v-2h.266v2zM25.006,0v-4h.266v4zM27.006,0v-12h.266v12zM28.006,0v-15h.266v15zM29.006,0v-14h.266v14zM31.006,0v-16h.266v16zM32.006,0v-13h.266v13zM34.006,0v-15h.266v15zM35.006,0v-13h.266v13zM36.006,0v-13h.266v13zM38.006,0v-15h.266v15zM39.006,0v-14h.266v14zM41.006,0v-12h.266v12zM42.006,0v-7h.266v7zM43.006,0v-7h.266v7zM45.006,0v-2h.266v2zM46.006,0v-1h.266v1z"/>
 </g>
 <path d="M84,0H1767" stroke="#000" stroke-width="4"/>
 <path d="M83,60.7H1768" stroke="#000" stroke-width="3.5"/>
 <path d="M84,0V60.7M1767,0V60.7" stroke="#000" stroke-width="2.5"/>
 <g transform="translate(84,0) scale(32.37,15.5)">
  <path class="ns" fill="none" stroke="#E5283A" stroke-width="3" d="M22.5,-3.42l.263,-.968h-.526zM25.5,-10.42l.263,-.968h-.526zM29.5,-15.42l.263,-.968h-.526zM32.5,-14.42l.263,-.968h-.526zM36.5,-13.42l.263,-.968h-.526zM39.5,-6.42l.263,-.968h-.526z"/>
  <path class="ns" fill="none" stroke="#E0561E" stroke-width="3" d="M43.5,.58l.263,-.968h-.526z"/>
  <path class="ns" fill="none" stroke="#2458B3" stroke-width="3" d="M23.5,-4.58l.263,.968h-.526zM26.5,-7.58l.263,.968h-.526zM30.5,-14.58l.263,.968h-.526zM33.5,-14.58l.263,.968h-.526zM37.5,-16.58l.263,.968h-.526zM40.5,-12.58l.263,.968h-.526zM44.5,-3.58l.263,.968h-.526zM47.5,-.58l.263,.968h-.526z"/>
 </g>
 <g font-size="25" text-anchor="end">
  <text x="78" y="-238">100</text><text x="78" y="-188.4">80</text><text x="78" y="-138.8">60</text><text x="78" y="-89.2">40</text><text x="78" y="-39.6">20</text><text x="78" y="10">0</text>
 </g>
 <g font-size="25">
  <text x="1777" y="-238">16</text><text x="1777" y="-207">14</text><text x="1777" y="-176">12</text><text x="1777" y="-145">10</text><text x="1777" y="-114">8</text><text x="1777" y="-83">6</text><text x="1777" y="-52">4</text><text x="1777" y="-21">2</text><text x="1777" y="10">0</text>
 </g>
 <text transform="translate(29,-126) rotate(-90)" font-size="26" text-anchor="middle" textLength="183" lengthAdjust="spacingAndGlyphs">Proprotion (%)</text>
 <text transform="translate(1836,-128) rotate(-90)" font-size="29" text-anchor="middle" textLength="285" lengthAdjust="spacingAndGlyphs">Number of participant</text>
 <g font-size="31" text-anchor="middle">
  <text x="159" y="106">C1</text><text x="388" y="106">C2</text><text x="616" y="106">C3</text><text x="847" y="106">C4</text><text x="912" y="106">E4</text><text x="1072" y="106">C5</text><text x="1301" y="106">C6</text><text x="1369" y="106">E6</text><text x="1529" y="106">C7</text><text x="1757" y="106">C8</text>
  <text x="912" y="132">+</text><text x="1369" y="132">+</text>
  <text x="912" y="163" style="fill:#8c8c8c">F3</text><text x="1369" y="163" style="fill:#8c8c8c">F5</text>
 </g>
</g>
<text x="926" y="2286" font-size="36" text-anchor="middle" textLength="196" lengthAdjust="spacingAndGlyphs">Note Name</text>
<text x="962" y="2345" font-size="50" text-anchor="middle" textLength="170" lengthAdjust="spacingAndGlyphs">Seventh</text>
</svg>
</body></html>
